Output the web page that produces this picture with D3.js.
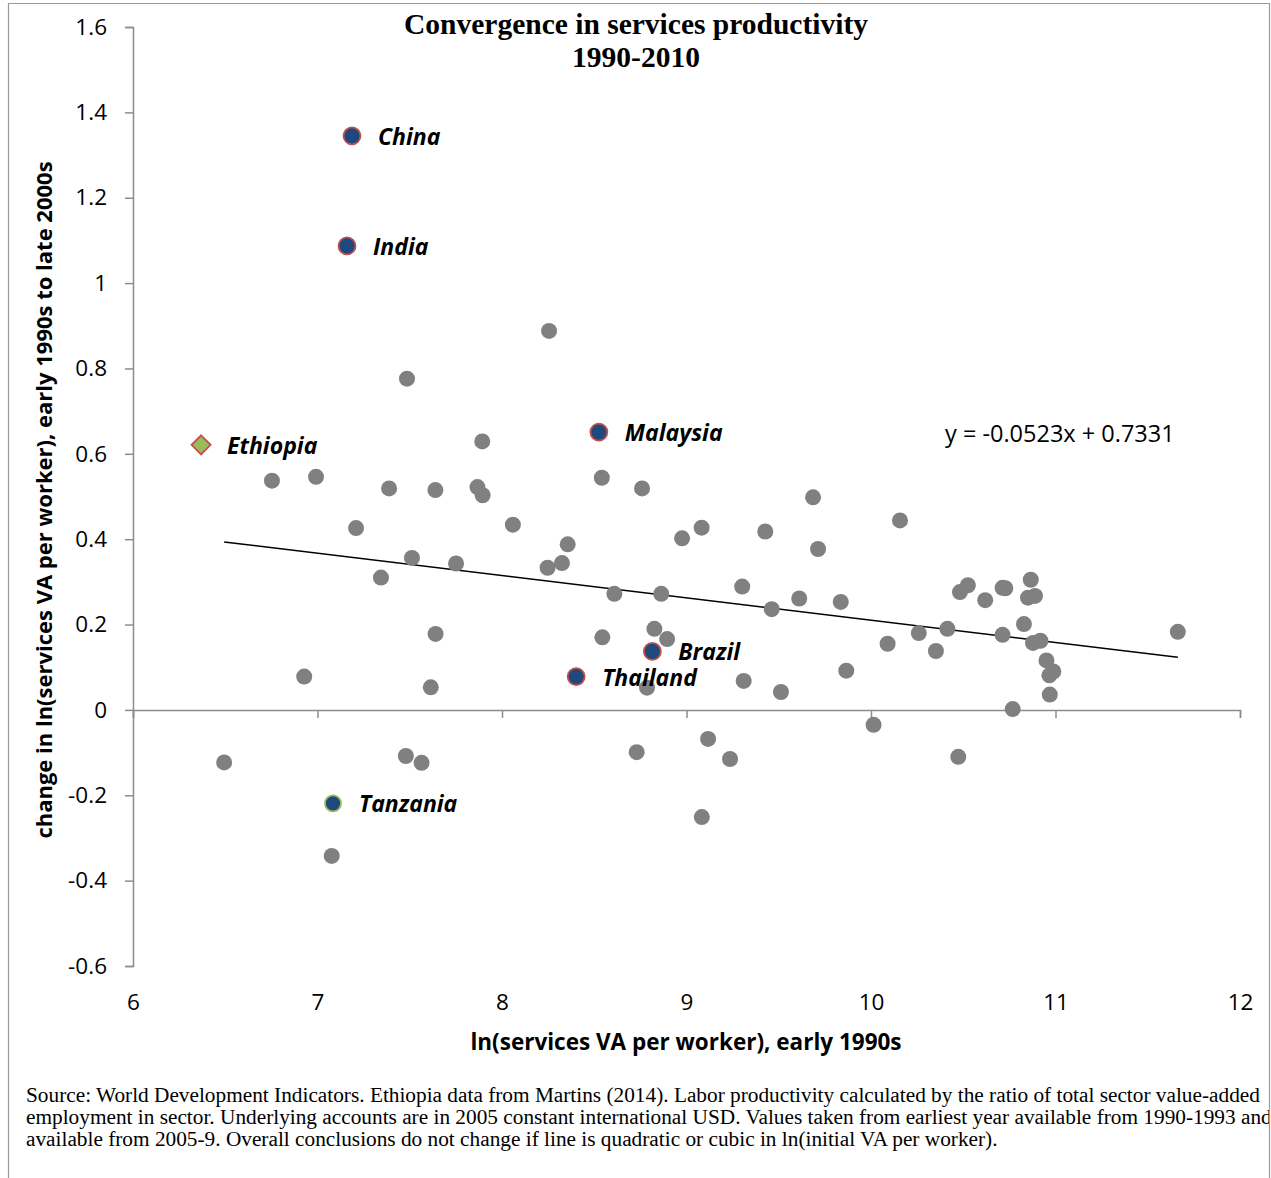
<!DOCTYPE html>
<html>
<head>
<meta charset="utf-8">
<script src="https://cdn.jsdelivr.net/npm/d3@7"></script>
<style>
  body { margin: 0; background: #fff; }
  svg { display: block; }
</style>
</head>
<body>
<svg id="chart" width="1271" height="1178"></svg>
<script>
// ---- data ----
const greyX = [6.753, 6.992, 7.209, 7.485, 7.388, 7.344, 7.512, 7.639, 7.751, 7.867, 7.895, 7.893, 8.059, 8.255, 8.247, 8.325, 8.356, 8.541, 8.759, 8.609, 8.544, 8.826, 8.863, 8.895, 8.976, 9.082, 8.786, 8.730, 9.117, 9.236, 9.083, 9.302, 9.310, 9.427, 9.462, 9.512, 9.611, 9.686, 9.713, 9.836, 9.866, 10.014, 10.090, 10.157, 10.259, 10.352, 10.414, 10.473, 10.482, 10.525, 10.619, 10.713, 10.728, 10.713, 10.768, 10.829, 10.866, 10.851, 10.889, 10.878, 10.918, 10.951, 10.967, 10.988, 10.969, 11.663, 6.494, 6.928, 7.614, 7.479, 7.564, 7.640, 7.077];
const greyY = [0.537, 0.546, 0.426, 0.776, 0.519, 0.310, 0.356, 0.515, 0.343, 0.522, 0.503, 0.629, 0.434, 0.888, 0.333, 0.344, 0.388, 0.544, 0.519, 0.272, 0.170, 0.190, 0.272, 0.166, 0.402, 0.427, 0.052, -0.099, -0.068, -0.115, -0.251, 0.289, 0.068, 0.418, 0.236, 0.042, 0.261, 0.498, 0.377, 0.253, 0.092, -0.035, 0.155, 0.444, 0.180, 0.138, 0.190, -0.110, 0.276, 0.292, 0.257, 0.286, 0.285, 0.176, 0.002, 0.201, 0.305, 0.263, 0.267, 0.157, 0.162, 0.116, 0.081, 0.090, 0.036, 0.183, -0.123, 0.078, 0.053, -0.108, -0.124, 0.178, -0.342];

const blueNames = ["China", "India", "Malaysia", "Brazil", "Thailand"];
const blueX = [7.187, 7.160, 8.525, 8.815, 8.402];
const blueY = [1.345, 1.087, 0.651, 0.137, 0.078];

const tzNames = ["Tanzania"];
const tzX = [7.084];
const tzY = [-0.219];

const ethNames = ["Ethiopia"];
const ethX = [6.369];
const ethY = [0.621];

const trendSlope = -0.0523;
const trendIntercept = 0.7331;
const trendLabel = "y = -0.0523x + 0.7331";

const xTicks = [6, 7, 8, 9, 10, 11, 12];
const yTicks = [-0.6, -0.4, -0.2, 0, 0.2, 0.4, 0.6, 0.8, 1, 1.2, 1.4, 1.6];

const titleLines = ["Convergence in services productivity", "1990-2010"];
const xTitle = "ln(services VA per worker), early 1990s";
const yTitle = "change in ln(services VA per worker), early 1990s to late 2000s";
const footnoteLines = [
  "Source: World Development Indicators. Ethiopia data from Martins (2014). Labor productivity calculated by the ratio of total sector value-added",
  "employment in sector. Underlying accounts are in 2005 constant international USD. Values taken from earliest year available from 1990-1993 and",
  "available from 2005-9. Overall conclusions do not change if line is quadratic or cubic in ln(initial VA per worker)."
];

// ---- drawing ----
const svg = d3.select("#chart");
const W = 1271, H = 1178;
svg.append("rect").attr("width", W).attr("height", H).attr("fill", "#fff");

const defs = svg.append("defs");
defs.append("clipPath").attr("id", "frameClip")
  .append("rect").attr("x", 8).attr("y", 3).attr("width", 1261).attr("height", H);

// frame
svg.append("path")
  .attr("d", `M8.5,${H} V3.5 H1269.5 V${H}`)
  .attr("fill", "none").attr("stroke", "#9a9a9a").attr("stroke-width", 1.2);

const x = d3.scaleLinear().domain([6, 12]).range([133, 1240]);
const y = d3.scaleLinear().domain([-0.6, 1.6]).range([966, 27]);
const axisColor = "#8c8c8c";
const sans = "'Open Sans', 'DejaVu Sans', sans-serif";

// y axis
const yAxis = svg.append("g").attr("transform", `translate(${x(6)},0)`)
  .call(d3.axisLeft(y).tickValues(yTicks).tickSize(8).tickPadding(18)
    .tickFormat(d => String(+d.toFixed(1))));
yAxis.select(".domain").attr("stroke", axisColor).attr("stroke-width", 1.5);
yAxis.selectAll(".tick line").attr("stroke", axisColor).attr("stroke-width", 1.5);
yAxis.selectAll(".tick text").attr("font-family", sans).attr("font-size", 22.5).attr("fill", "#000");

// x axis at y = 0, labels at bottom
const x0 = y(0);
const xAxis = svg.append("g").attr("transform", `translate(0,${x0})`)
  .call(d3.axisBottom(x).tickValues(xTicks).tickSize(8).tickFormat(d3.format("d")));
xAxis.select(".domain").attr("stroke", axisColor).attr("stroke-width", 1.5);
xAxis.selectAll(".tick line").attr("stroke", axisColor).attr("stroke-width", 1.5);
xAxis.selectAll(".tick text")
  .attr("font-family", sans).attr("font-size", 22.5).attr("fill", "#000")
  .attr("dy", null)
  .attr("y", y(-0.6) - x0 + 44);

// trendline
const ext = d3.extent(greyX);
svg.append("line")
  .attr("x1", x(ext[0])).attr("y1", y(trendSlope * ext[0] + trendIntercept))
  .attr("x2", x(ext[1])).attr("y2", y(trendSlope * ext[1] + trendIntercept))
  .attr("stroke", "#000").attr("stroke-width", 1.5);

// grey points
svg.append("g").selectAll("circle").data(greyX.map((v, i) => [v, greyY[i]])).join("circle")
  .attr("cx", d => x(d[0])).attr("cy", d => y(d[1])).attr("r", 8).attr("fill", "#808080");

// blue highlighted points
const blue = blueNames.map((n, i) => ({ n, x: blueX[i], y: blueY[i] }));
svg.append("g").selectAll("circle").data(blue).join("circle")
  .attr("cx", d => x(d.x)).attr("cy", d => y(d.y)).attr("r", 8.5)
  .attr("fill", "#1f497d").attr("stroke", "#c0504d").attr("stroke-width", 1.8);

const tz = tzNames.map((n, i) => ({ n, x: tzX[i], y: tzY[i] }));
svg.append("g").selectAll("circle").data(tz).join("circle")
  .attr("cx", d => x(d.x)).attr("cy", d => y(d.y)).attr("r", 8)
  .attr("fill", "#1f497d").attr("stroke", "#9bbb59").attr("stroke-width", 1.8);

const eth = ethNames.map((n, i) => ({ n, x: ethX[i], y: ethY[i] }));
svg.append("g").selectAll("path").data(eth).join("path")
  .attr("d", d3.symbol(d3.symbolDiamond2, 230)())
  .attr("transform", d => `translate(${x(d.x)},${y(d.y)})`)
  .attr("fill", "#9bbb59").attr("stroke", "#c0504d").attr("stroke-width", 1.8);

// point labels
const labeled = blue.concat(tz, eth);
svg.append("g").selectAll("text").data(labeled).join("text")
  .attr("x", d => x(d.x) + 26).attr("y", d => y(d.y) + 9)
  .attr("font-family", sans).attr("font-size", 23).attr("font-weight", "bold")
  .attr("font-style", "italic").attr("fill", "#000")
  .text(d => d.n);

// equation
svg.append("text").attr("x", 945).attr("y", 442)
  .attr("font-family", sans).attr("font-size", 23.5).attr("fill", "#000")
  .text(trendLabel);

// title
svg.append("g").selectAll("text").data(titleLines).join("text")
  .attr("x", 636).attr("y", (d, i) => 34 + i * 33)
  .attr("text-anchor", "middle")
  .attr("font-family", "'Liberation Serif', 'Times New Roman', serif")
  .attr("font-size", 29.5).attr("font-weight", "bold").attr("fill", "#000")
  .text(d => d);

// axis titles
svg.append("text").attr("x", 686).attr("y", 1050).attr("text-anchor", "middle")
  .attr("font-family", sans).attr("font-size", 22.5).attr("font-weight", "bold").attr("fill", "#000")
  .text(xTitle);
svg.append("text").attr("transform", "translate(52,500) rotate(-90)").attr("text-anchor", "middle")
  .attr("font-family", sans).attr("font-size", 22).attr("font-weight", "bold").attr("fill", "#000")
  .text(yTitle);

// footnote
svg.append("g").attr("clip-path", "url(#frameClip)")
  .selectAll("text").data(footnoteLines).join("text")
  .attr("x", 26).attr("y", (d, i) => 1102 + i * 22)
  .attr("font-family", "'Liberation Serif', 'Times New Roman', serif")
  .attr("font-size", 21.3).attr("fill", "#000")
  .text(d => d);
</script>
</body>
</html>
